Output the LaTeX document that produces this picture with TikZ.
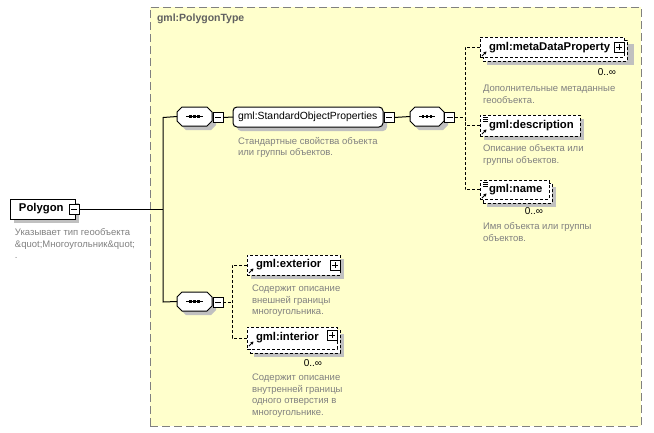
\documentclass[tikz,border=0pt]{standalone}
\usepackage{fontspec}
\setmainfont{Liberation Sans}
\usetikzlibrary{arrows.meta}
\definecolor{bgyellow}{RGB}{255,255,204}
\definecolor{bordergray}{RGB}{128,128,128}
\definecolor{shadowgray}{RGB}{192,192,192}
\definecolor{desctext}{RGB}{128,128,128}
\definecolor{titlegray}{RGB}{96,96,96}
\newcommand\octpath[4]{(#1+5,#2) -- (#3-5,#2) -- (#3,#2+5) -- (#3,#4-5) -- (#3-5,#4) -- (#1+5,#4) -- (#1,#4-5) -- (#1,#2+5) -- cycle}
\begin{document}
\begin{tikzpicture}[x=1pt,y=-1pt,
  every node/.style={inner sep=0pt,outer sep=0pt},
  lbl/.style={font=\fontsize{11.3}{13}\selectfont\bfseries,anchor=west},
  lblr/.style={font=\fontsize{10.4}{12}\selectfont,anchor=west},
  desc/.style={font=\fontsize{9.5}{11.5}\selectfont,text=desctext,align=left,anchor=north west},
  occ/.style={font=\fontsize{10}{12}\selectfont,anchor=east},
  shadowfill/.style={fill=shadowgray,draw=none},
  elbox/.style={draw,dash pattern=on 3pt off 2pt,fill=white,line width=1pt,anchor=north west},
  solidbox/.style={draw,fill=white,line width=1pt,anchor=north west},
  conn/.style={line width=1pt},
  dconn/.style={line width=1pt,dash pattern=on 3pt off 2pt},
  tog/.style={draw,fill=white,line width=1pt,minimum width=10pt,minimum height=10pt},
  seqnode/.style={minimum width=35pt,minimum height=19pt,anchor=north west},
  octo/.style={draw,fill=white,line width=1pt},
  icon/.style={line width=0.7pt},
  refarrow/.style={line width=1pt,-{Stealth[length=3pt,width=3.5pt]}}
]
\useasboundingbox (0,0) rectangle (654,432);

% container
\node[draw=bordergray,dash pattern=on 8pt off 4pt,fill=bgyellow,line width=1pt,
  minimum width=491pt,minimum height=419pt,anchor=north west] (ptype) at (150,7) {};
\node[font=\fontsize{10.5}{12}\selectfont\bfseries,text=titlegray,anchor=west] (ptitle) at (157,18.5) {gml:PolygonType};

% Polygon
\fill[shadowgray] (14,203) rectangle (79,223);
\node[solidbox,minimum width=65pt,minimum height=20pt] (poly) at (10,199) {};
\node[lbl] (polyL) at (19,209) {Polygon};
\node[tog] (polyT) at (74,209.5) {};
\draw[icon] ([xshift=2pt]polyT.west) -- ([xshift=-2pt]polyT.east);
\node[desc] (polyD) at (15,229) {Указывает тип геообъекта\\\&quot;Многоугольник\&quot;\\.};

% sequence 1
\fill[shadowgray] \octpath{181}{111}{216}{130};
\node[seqnode] (seq1) at (177,107) {};
\draw[octo] \octpath{177}{107}{212}{126};
\draw[conn] (186,116.5) -- (203,116.5);
\fill (189,115.2) rectangle (191.6,117.8);
\fill (193.2,115.2) rectangle (195.8,117.8);
\fill (197.4,115.2) rectangle (200,117.8);
\node[tog] (seq1T) at (218,117.5) {};
\draw[icon] ([xshift=2pt]seq1T.west) -- ([xshift=-2pt]seq1T.east);

% group StandardObjectProperties
\fill[shadowgray,rounded corners=4pt] (237,111) rectangle (387,131);
\node[solidbox,rounded corners=4pt,minimum width=150pt,minimum height=20pt] (sop) at (233,107) {};
\node[lblr] (sopL) at (238,117) {gml:StandardObjectProperties};
\node[tog] (sopT) at (389,117.5) {};
\draw[icon] ([xshift=2pt]sopT.west) -- ([xshift=-2pt]sopT.east);
\node[desc] (sopD) at (238,137) {Стандартные свойства объекта\\или группы объектов.};

% sequence 2
\fill[shadowgray] \octpath{414}{111}{448}{130};
\node[seqnode,minimum width=34pt] (seq2) at (410,107) {};
\draw[octo] \octpath{410}{107}{444}{126};
\draw[conn] (419,116.5) -- (435,116.5);
\fill (421.7,115.2) rectangle (424.3,117.8);
\fill (425.7,115.2) rectangle (428.3,117.8);
\fill (429.7,115.2) rectangle (432.3,117.8);
\node[tog] (seq2T) at (449.5,117.5) {};
\draw[icon] ([xshift=2pt]seq2T.west) -- ([xshift=-2pt]seq2T.east);

% metaDataProperty (0..inf)
\fill[shadowgray] (487,44) rectangle (634,65);
\node[elbox,minimum width=144pt,minimum height=21pt] (metaB) at (483,40) {};
\node[elbox,minimum width=144pt,minimum height=20pt] (meta) at (480,37) {};
\node[lbl] (metaL) at (489,47.5) {gml:metaDataProperty};
\node[tog] (metaT) at (619,47) {};
\draw[icon] ([xshift=2pt]metaT.west) -- ([xshift=-2pt]metaT.east);
\draw[icon] ([yshift=-2pt]metaT.north) -- ([yshift=2pt]metaT.south);
\draw[refarrow] (482,56) -- (486.5,51.5);
\node[occ] (metaO) at (616,72.5) {0..∞};
\node[desc] (metaD) at (483,85) {Дополнительные метаданные\\геообъекта.};

% description
\fill[shadowgray] (484,119) rectangle (584,140);
\node[elbox,minimum width=100pt,minimum height=21pt] (descr) at (480,115) {};
\node[lbl] (descrL) at (489,126) {gml:description};
\draw[icon] (483,117.5) -- (488,117.5) (483,119.5) -- (488,119.5) (483,121.5) -- (488,121.5);
\draw[refarrow] (482,134) -- (486.5,129.5);
\node[desc] (descrD) at (483,145) {Описание объекта или\\группы объектов.};

% name (0..inf)
\fill[shadowgray] (487,187) rectangle (556,207);
\node[elbox,minimum width=69pt,minimum height=20pt] (nameB) at (483,183) {};
\node[elbox,minimum width=69pt,minimum height=19pt] (name) at (480,180) {};
\node[lbl] (nameL) at (489,190) {gml:name};
\draw[icon] (483,182.5) -- (488,182.5) (483,184.5) -- (488,184.5) (483,186.5) -- (488,186.5);
\draw[refarrow] (482,198) -- (486.5,193.5);
\node[occ] (nameO) at (543,211.5) {0..∞};
\node[desc] (nameD) at (483,223) {Имя объекта или группы\\объектов.};

% upper choice connectors
\coordinate (uj) at (465,117.5);
\draw[dconn] (seq2T.east) -- (uj);
\draw[dconn] (meta.west) -| (uj);
\draw[dconn] (descr.west) -| (uj);
\draw[dconn] (name.west) -| (uj);

% sequence 3
\fill[shadowgray] \octpath{181}{296}{216}{315};
\node[seqnode] (seq3) at (177,292) {};
\draw[octo] \octpath{177}{292}{212}{311};
\draw[conn] (186,301.5) -- (203,301.5);
\fill (189,300.2) rectangle (191.6,302.8);
\fill (193.2,300.2) rectangle (195.8,302.8);
\fill (197.4,300.2) rectangle (200,302.8);
\node[tog] (seq3T) at (218,302) {};
\draw[icon] ([xshift=2pt]seq3T.west) -- ([xshift=-2pt]seq3T.east);

% exterior
\fill[shadowgray] (251,259) rectangle (344,279);
\node[elbox,minimum width=93pt,minimum height=20pt] (ext) at (247,255) {};
\node[lbl] (extL) at (256,265) {gml:exterior};
\node[tog] (extT) at (335,265) {};
\draw[icon] ([xshift=2pt]extT.west) -- ([xshift=-2pt]extT.east);
\draw[icon] ([yshift=-2pt]extT.north) -- ([yshift=2pt]extT.south);
\draw[refarrow] (249,273) -- (253.5,268.5);
\node[desc] (extD) at (252,285) {Содержит описание\\внешней границы\\многоугольника.};

% interior (0..inf)
\fill[shadowgray] (254,334) rectangle (344,357);
\node[elbox,minimum width=90pt,minimum height=23pt] (intB) at (250,330) {};
\node[elbox,minimum width=90pt,minimum height=22pt] (int) at (247,327) {};
\node[lbl] (intL) at (256,338) {gml:interior};
\node[tog] (intT) at (332,335) {};
\draw[icon] ([xshift=2pt]intT.west) -- ([xshift=-2pt]intT.east);
\draw[icon] ([yshift=-2pt]intT.north) -- ([yshift=2pt]intT.south);
\draw[refarrow] (249,346) -- (253.5,341.5);
\node[occ] (intO) at (322,363.5) {0..∞};
\node[desc] (intD) at (252,374) {Содержит описание\\внутренней границы\\одного отверстия в\\многоугольнике.};

% lower connectors
\coordinate (lj) at (232,302);
\draw[dconn] (seq3T.east) -- (lj);
\draw[dconn] (ext.west) -| (lj);
\draw[dconn] (int.west) -| (lj);

% main connectors
\coordinate (vtop) at (163,117.5);
\coordinate (vmid) at (163,209.5);
\coordinate (vbot) at (163,302);
\draw[conn] (polyT.east) -- (vmid);
\draw[conn] (seq1.west) -- (vtop) -- (vbot) -- (seq3.west);
\draw[conn] (seq1T.east) -- (sop.west);
\draw[conn] (sopT.east) -- (seq2.west);
\end{tikzpicture}
\end{document}
